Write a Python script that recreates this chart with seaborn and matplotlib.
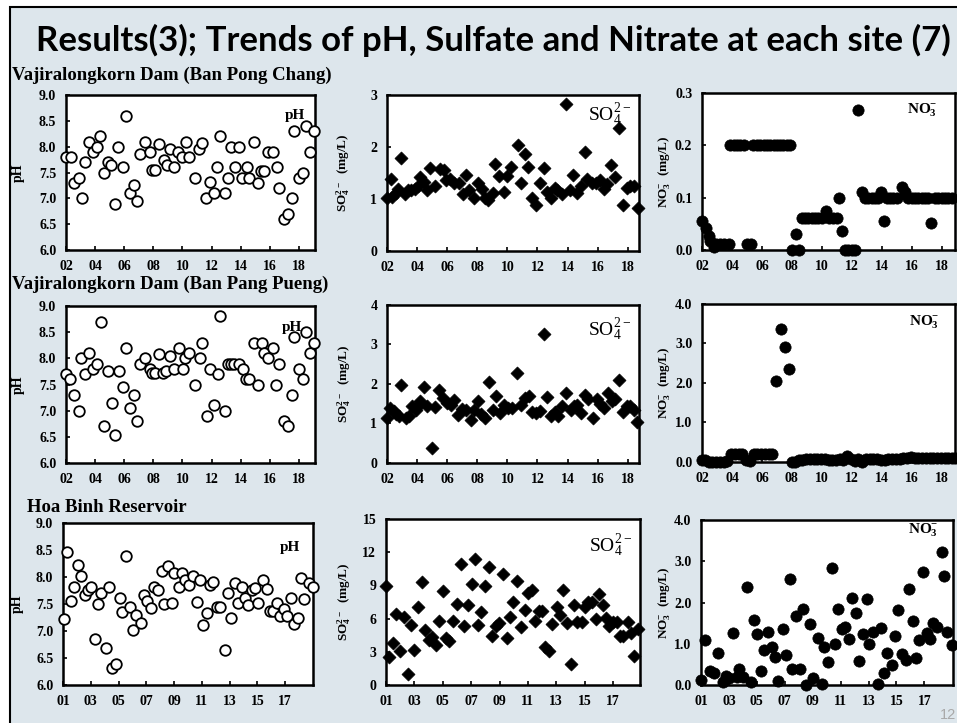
import matplotlib
matplotlib.use('Agg')
import matplotlib.pyplot as plt
from matplotlib.patches import Rectangle
import seaborn as sns

# ---- data (decimal year, value) ----
# Vajiralongkorn Dam (Ban Pong Chang)
bpc_ph_x = [2002.0, 2002.34, 2002.53, 2002.87, 2003.1, 2003.33, 2003.55, 2003.85, 2004.13, 2004.35,
            2004.63, 2004.86, 2005.1, 2005.37, 2005.6, 2005.9, 2006.14, 2006.41, 2006.69, 2006.87,
            2007.1, 2007.44, 2007.78, 2007.9, 2008.13, 2008.42, 2008.7, 2008.93, 2009.15, 2009.43,
            2009.66, 2009.95, 2010.23, 2010.48, 2010.87, 2011.14, 2011.37, 2011.63, 2011.9, 2012.13,
            2012.4, 2012.58, 2012.9, 2013.15, 2013.33, 2013.6, 2013.9, 2014.1, 2014.4, 2014.58,
            2014.93, 2015.2, 2015.4, 2015.62, 2015.9, 2016.2, 2016.47, 2016.65, 2016.97, 2017.27,
            2017.5, 2017.66, 2018.0, 2018.25, 2018.48, 2018.75, 2019.03]
bpc_ph = [7.8, 7.8, 7.3, 7.4, 7.0, 7.7, 8.1, 7.9, 8.0, 8.2,
          7.5, 7.7, 7.65, 6.9, 8.0, 7.6, 8.6, 7.1, 7.25, 6.95,
          7.85, 8.1, 7.9, 7.55, 7.55, 8.05, 7.75, 7.65, 7.95, 7.6,
          7.9, 7.8, 8.1, 7.8, 7.4, 7.95, 8.08, 7.0, 7.32, 7.1,
          7.6, 8.2, 7.1, 7.4, 8.0, 7.6, 8.0, 7.4, 7.6, 7.4,
          8.1, 7.3, 7.52, 7.52, 7.9, 7.9, 7.6, 7.2, 6.6, 6.7,
          7.0, 8.3, 7.4, 7.5, 8.4, 7.9, 8.3]

bpc_so4_x = [2002.0, 2002.24, 2002.35, 2002.57, 2002.73, 2002.95, 2003.17, 2003.39, 2003.61, 2003.83,
             2004.05, 2004.21, 2004.43, 2004.67, 2004.89, 2005.22, 2005.49, 2005.77, 2005.93, 2006.19,
             2006.44, 2006.77, 2007.03, 2007.25, 2007.47, 2007.76, 2008.03, 2008.31, 2008.53, 2008.69,
             2009.02, 2009.2, 2009.46, 2009.79, 2009.97, 2010.23, 2010.68, 2010.9, 2011.18, 2011.4,
             2011.67, 2011.93, 2012.15, 2012.44, 2012.66, 2012.88, 2013.15, 2013.32, 2013.66, 2013.92,
             2014.14, 2014.38, 2014.65, 2014.87, 2015.16, 2015.31, 2015.64, 2015.86, 2016.19, 2016.42,
             2016.64, 2016.92, 2017.14, 2017.41, 2017.67, 2017.92, 2018.18, 2018.4, 2018.69]
bpc_so4 = [1.01, 1.39, 1.04, 1.12, 1.2, 1.78, 1.1, 1.17, 1.17, 1.2,
           1.25, 1.43, 1.33, 1.18, 1.59, 1.25, 1.57, 1.55, 1.36, 1.39,
           1.3, 1.31, 1.09, 1.47, 1.17, 1.01, 1.31, 1.2, 1.01, 0.98,
           1.12, 1.67, 1.44, 1.14, 1.44, 1.61, 2.04, 1.31, 1.86, 1.62,
           1.01, 0.88, 1.3, 1.59, 1.14, 1.01, 1.22, 1.17, 1.1, 2.83,
           1.17, 1.46, 1.12, 1.25, 1.91, 1.38, 1.31, 1.3, 1.36, 1.2,
           1.29, 1.65, 1.43, 2.36, 0.88, 1.22, 1.25, 1.25, 0.82]

bpc_no3_x = [2002.0, 2002.27, 2002.44, 2002.56, 2002.78, 2002.96, 2003.22, 2003.49, 2003.78, 2003.89,
             2004.11, 2004.33, 2004.56, 2004.78, 2005.0, 2005.27, 2005.44, 2005.67, 2005.89, 2006.11,
             2006.33, 2006.56, 2006.78, 2007.0, 2007.22, 2007.44, 2007.67, 2007.89, 2008.0, 2008.27,
             2008.51, 2008.67, 2008.89, 2009.11, 2009.33, 2009.56, 2009.78, 2010.0, 2010.29, 2010.51,
             2010.78, 2011.0, 2011.18, 2011.33, 2011.56, 2011.78, 2012.0, 2012.22, 2012.44, 2012.67,
             2012.89, 2013.11, 2013.33, 2013.56, 2013.78, 2013.93, 2014.18, 2014.33, 2014.56, 2014.78,
             2015.04, 2015.33, 2015.56, 2015.78, 2016.0, 2016.22, 2016.44, 2016.67, 2016.89, 2017.11,
             2017.33, 2017.56, 2017.78, 2018.0, 2018.22, 2018.44, 2018.67]
bpc_no3 = [0.056, 0.042, 0.026, 0.018, 0.005, 0.012, 0.012, 0.012, 0.012, 0.2,
           0.2, 0.2, 0.2, 0.2, 0.012, 0.012, 0.2, 0.2, 0.2, 0.2,
           0.2, 0.2, 0.2, 0.2, 0.2, 0.2, 0.2, 0.2, 0.0, 0.03,
           0.0, 0.062, 0.062, 0.062, 0.062, 0.062, 0.062, 0.062, 0.074, 0.062,
           0.062, 0.062, 0.1, 0.036, 0.0, 0.0, 0.0, 0.0, 0.267, 0.11,
           0.1, 0.1, 0.1, 0.1, 0.1, 0.11, 0.056, 0.1, 0.1, 0.1,
           0.1, 0.12, 0.11, 0.1, 0.1, 0.1, 0.1, 0.1, 0.1, 0.1,
           0.051, 0.1, 0.1, 0.1, 0.1, 0.1, 0.1]

# Vajiralongkorn Dam (Ban Pang Pueng)
bpp_ph_x = [2002.0, 2002.3, 2002.53, 2002.87, 2003.05, 2003.33, 2003.6, 2003.85, 2004.13, 2004.4,
            2004.63, 2004.86, 2005.15, 2005.38, 2005.61, 2005.91, 2006.14, 2006.41, 2006.64, 2006.87,
            2007.1, 2007.44, 2007.74, 2007.9, 2008.13, 2008.42, 2008.65, 2008.88, 2009.15, 2009.43,
            2009.73, 2010.02, 2010.18, 2010.48, 2010.87, 2011.17, 2011.37, 2011.67, 2011.9, 2012.17,
            2012.42, 2012.58, 2012.9, 2013.15, 2013.33, 2013.56, 2013.9, 2014.18, 2014.37, 2014.59,
            2014.94, 2015.21, 2015.44, 2015.62, 2015.9, 2016.2, 2016.42, 2016.65, 2016.97, 2017.27,
            2017.5, 2017.66, 2018.0, 2018.25, 2018.48, 2018.75, 2019.03]
bpp_ph = [7.7, 7.6, 7.3, 7.0, 8.0, 7.7, 8.1, 7.8, 7.9, 8.7,
          6.7, 7.75, 7.15, 6.53, 7.75, 7.45, 8.2, 7.05, 7.3, 6.8,
          7.9, 8.0, 7.8, 7.72, 7.72, 8.08, 7.72, 7.75, 8.04, 7.8,
          8.2, 7.8, 8.0, 8.1, 7.5, 8.0, 8.3, 6.9, 7.8, 7.1,
          7.7, 8.8, 7.0, 7.9, 7.9, 7.9, 7.9, 7.8, 7.6, 7.6,
          8.3, 7.5, 8.3, 8.1, 8.0, 8.2, 7.5, 7.9, 6.8, 6.7,
          7.3, 8.4, 7.8, 7.6, 8.5, 8.1, 8.3]

bpp_so4_x = [2002.0, 2002.18, 2002.44, 2002.62, 2002.79, 2002.95, 2003.24, 2003.46, 2003.68, 2003.9,
             2004.01, 2004.21, 2004.49, 2004.67, 2005.0, 2005.22, 2005.44, 2005.71, 2005.97, 2006.26,
             2006.48, 2006.75, 2006.99, 2007.25, 2007.58, 2007.81, 2008.03, 2008.25, 2008.51, 2008.75,
             2009.02, 2009.24, 2009.53, 2009.79, 2010.01, 2010.3, 2010.63, 2010.9, 2011.18, 2011.45,
             2011.67, 2011.93, 2012.15, 2012.44, 2012.66, 2012.88, 2013.15, 2013.37, 2013.66, 2013.92,
             2014.21, 2014.43, 2014.65, 2014.91, 2015.16, 2015.38, 2015.71, 2015.93, 2016.19, 2016.42,
             2016.7, 2016.97, 2017.14, 2017.41, 2017.67, 2017.96, 2018.14, 2018.4, 2018.62]
bpp_so4 = [1.14, 1.39, 1.31, 1.25, 1.2, 1.97, 1.14, 1.18, 1.44, 1.35,
           1.42, 1.58, 1.93, 1.45, 0.38, 1.41, 1.84, 1.65, 1.52, 1.48,
           1.59, 1.22, 1.37, 1.35, 1.09, 1.35, 1.56, 1.25, 1.15, 2.05,
           1.33, 1.69, 1.26, 1.48, 1.39, 1.38, 2.27, 1.48, 1.65, 1.69,
           1.28, 1.26, 1.31, 3.26, 1.68, 1.18, 1.28, 1.18, 1.44, 1.78,
           1.33, 1.44, 1.48, 1.26, 1.71, 1.61, 1.14, 1.62, 1.5, 1.39,
           1.78, 1.56, 1.61, 2.1, 1.28, 1.45, 1.44, 1.35, 1.03]

bpp_no3_x = [2002.0, 2002.2, 2002.45, 2002.7, 2002.95, 2003.2, 2003.45, 2003.7, 2003.95, 2004.2,
             2004.45, 2004.7, 2004.95, 2005.2, 2005.45, 2005.7, 2005.95, 2006.2, 2006.45, 2006.7,
             2006.95, 2007.3, 2007.55, 2007.78, 2008.0, 2008.2, 2008.45, 2008.7, 2008.95, 2009.2,
             2009.45, 2009.7, 2009.95, 2010.2, 2010.45, 2010.7, 2010.95, 2011.2, 2011.45, 2011.7,
             2011.95, 2012.2, 2012.45, 2012.7, 2012.95, 2013.2, 2013.45, 2013.7, 2013.95, 2014.2,
             2014.45, 2014.7, 2014.95, 2015.2, 2015.45, 2015.7, 2015.95, 2016.2, 2016.45, 2016.7,
             2016.95, 2017.2, 2017.45, 2017.7, 2017.95, 2018.2, 2018.45, 2018.7, 2018.9]
bpp_no3 = [0.05, 0.04, 0.0, 0.0, 0.0, 0.0, 0.0, 0.02, 0.2, 0.2,
           0.2, 0.2, 0.05, 0.02, 0.2, 0.2, 0.2, 0.2, 0.2, 0.2,
           2.05, 3.37, 2.9, 2.35, 0.0, 0.0, 0.04, 0.06, 0.07, 0.07,
           0.07, 0.07, 0.07, 0.08, 0.05, 0.06, 0.04, 0.07, 0.06, 0.15,
           0.07, 0.02, 0.07, 0.0, 0.07, 0.08, 0.08, 0.08, 0.04, 0.04,
           0.08, 0.08, 0.08, 0.08, 0.1, 0.1, 0.12, 0.1, 0.1, 0.1,
           0.1, 0.1, 0.1, 0.1, 0.1, 0.1, 0.1, 0.1, 0.1]

# Hoa Binh Reservoir
hb_ph_x = [2001.07, 2001.29, 2001.55, 2001.79, 2002.08, 2002.28, 2002.56, 2002.8, 2003.05, 2003.29,
           2003.53, 2003.77, 2004.08, 2004.3, 2004.56, 2004.85, 2005.09, 2005.28, 2005.52, 2005.81,
           2006.05, 2006.29, 2006.61, 2006.82, 2007.02, 2007.31, 2007.54, 2007.86, 2008.1, 2008.27,
           2008.58, 2008.87, 2009.01, 2009.35, 2009.54, 2009.78, 2010.1, 2010.34, 2010.62, 2010.87,
           2011.1, 2011.34, 2011.58, 2011.83, 2012.07, 2012.31, 2012.67, 2012.91, 2013.1, 2013.39,
           2013.58, 2013.87, 2014.11, 2014.35, 2014.59, 2014.83, 2015.07, 2015.39, 2015.68, 2015.87,
           2016.11, 2016.4, 2016.59, 2016.88, 2017.12, 2017.41, 2017.65, 2017.92, 2018.13, 2018.37,
           2018.69, 2018.97]
hb_ph = [7.23, 8.47, 7.56, 7.82, 8.23, 8.01, 7.67, 7.76, 7.81, 6.85,
         7.5, 7.7, 6.68, 7.81, 6.31, 6.38, 7.62, 7.35, 8.38, 7.45,
         7.02, 7.29, 7.14, 7.66, 7.55, 7.42, 7.82, 7.76, 8.12, 7.5,
         8.2, 7.52, 8.07, 7.82, 8.07, 7.95, 7.86, 8.01, 7.53, 7.95,
         7.11, 7.33, 7.86, 7.91, 7.45, 7.45, 6.64, 7.7, 7.25, 7.89,
         7.52, 7.81, 7.62, 7.48, 7.76, 7.79, 7.52, 7.95, 7.78, 7.37,
         7.37, 7.52, 7.27, 7.41, 7.28, 7.62, 7.13, 7.25, 7.99, 7.59,
         7.89, 7.82]

hb_so4_x = [2001.0, 2001.23, 2001.47, 2001.7, 2001.99, 2002.27, 2002.53, 2002.74, 2002.97, 2003.23,
            2003.51, 2003.75, 2004.03, 2004.22, 2004.52, 2004.76, 2005.04, 2005.23, 2005.46, 2005.74,
            2005.97, 2006.26, 2006.51, 2006.75, 2007.03, 2007.26, 2007.5, 2007.73, 2007.97, 2008.25,
            2008.49, 2008.72, 2008.96, 2009.22, 2009.5, 2009.73, 2009.97, 2010.25, 2010.49, 2010.79,
            2011.02, 2011.26, 2011.49, 2011.8, 2012.0, 2012.24, 2012.48, 2012.73, 2013.02, 2013.25,
            2013.49, 2013.77, 2014.01, 2014.24, 2014.48, 2014.78, 2015.02, 2015.25, 2015.53, 2015.79,
            2016.02, 2016.31, 2016.49, 2016.73, 2016.97, 2017.25, 2017.48, 2017.72, 2018.02, 2018.25,
            2018.46, 2018.77]
hb_so4 = [8.97, 2.54, 3.77, 6.4, 3.03, 6.18, 0.99, 5.41, 3.15, 7.02,
          9.28, 4.95, 4.08, 4.33, 3.65, 5.78, 8.5, 4.27, 3.96, 5.81,
          7.36, 10.89, 5.32, 7.21, 9.12, 11.38, 5.41, 6.56, 8.97, 10.67,
          4.39, 5.32, 5.63, 10.05, 4.27, 6.12, 7.48, 9.43, 5.26, 6.8,
          8.29, 8.6, 5.81, 6.65, 6.65, 3.4, 3.03, 5.5, 7.05, 6.34,
          8.6, 5.63, 1.92, 7.27, 5.72, 5.72, 7.05, 7.48, 7.48, 5.94,
          8.2, 7.27, 6.03, 5.32, 5.72, 5.72, 4.39, 4.39, 5.72, 4.7,
          2.63, 5.1]

hb_no3_x = [2001.0, 2001.29, 2001.64, 2001.93, 2002.24, 2002.55, 2002.79, 2003.03, 2003.32, 2003.55,
            2003.74, 2004.03, 2004.27, 2004.58, 2004.82, 2005.03, 2005.3, 2005.51, 2005.82, 2006.11,
            2006.3, 2006.54, 2006.85, 2007.06, 2007.35, 2007.54, 2007.78, 2008.09, 2008.33, 2008.49,
            2008.8, 2009.0, 2009.35, 2009.64, 2009.83, 2010.12, 2010.36, 2010.59, 2010.83, 2011.07,
            2011.31, 2011.6, 2011.84, 2012.07, 2012.31, 2012.58, 2012.86, 2013.05, 2013.34, 2013.65,
            2013.86, 2014.1, 2014.34, 2014.65, 2014.89, 2015.13, 2015.37, 2015.65, 2015.92, 2016.16,
            2016.39, 2016.63, 2016.92, 2017.16, 2017.4, 2017.63, 2017.92, 2018.23, 2018.4, 2018.64,
            2018.95]
hb_no3 = [0.13, 1.09, 0.34, 0.29, 0.77, 0.07, 0.23, 0.17, 1.25, 0.19,
          0.38, 0.19, 2.38, 0.08, 1.57, 1.24, 0.35, 0.86, 1.28, 0.91,
          0.67, 0.1, 1.36, 0.72, 2.57, 0.4, 1.68, 0.4, 1.84, 0.0,
          1.47, 0.17, 1.14, 0.03, 0.91, 0.56, 2.84, 0.99, 1.85, 1.36,
          1.41, 1.11, 2.11, 1.75, 0.59, 1.24, 2.09, 0.99, 1.28, 0.03,
          1.39, 0.29, 0.77, 0.49, 1.18, 1.81, 0.76, 0.61, 2.32, 1.56,
          0.66, 1.08, 2.74, 1.25, 1.12, 1.5, 1.41, 3.22, 2.65, 1.28,
          0.97]

# tick labels
even_years = [2002, 2004, 2006, 2008, 2010, 2012, 2014, 2016, 2018]
even_labels = ['02', '04', '06', '08', '10', '12', '14', '16', '18']
odd_years = [2001, 2003, 2005, 2007, 2009, 2011, 2013, 2015, 2017]
odd_labels = ['01', '03', '05', '07', '09', '11', '13', '15', '17']

title = 'Results(3); Trends of pH, Sulfate and Nitrate at each site (7)'
sites = ['Vajiralongkorn Dam (Ban Pong Chang)', 'Vajiralongkorn Dam (Ban Pang Pueng)', 'Hoa Binh Reservoir']

sns.set_theme(style='white')
plt.rcParams['font.family'] = ['Liberation Serif', 'DejaVu Serif']
plt.rcParams['mathtext.default'] = 'regular'
for key in ['text.color', 'axes.labelcolor', 'xtick.color', 'ytick.color']:
    plt.rcParams[key] = 'black'

W, H = 957, 723
fig = plt.figure(figsize=(W / 100, H / 100), dpi=100)
fig.patch.set_facecolor('white')
fig.patches.append(Rectangle((10 / W, -0.1), 1.2, 1.1 - 7 / H, transform=fig.transFigure,
                             facecolor='#dde6ec', edgecolor='black', linewidth=1.5, zorder=-10))

fig.text(493 / W, 1 - 40 / H, title, ha='center', va='center', fontsize=25,
         fontweight='bold', family='Lato')
fig.text(12 / W, 1 - 75 / H, sites[0], fontsize=13.5, fontweight='bold', va='center')
fig.text(12 / W, 1 - 284 / H, sites[1], fontsize=13.5, fontweight='bold', va='center')
fig.text(27 / W, 1 - 507 / H, sites[2], fontsize=13.5, fontweight='bold', va='center')
# slide number, partly hidden at the corner as on the slide
fig.text(940 / W, 1 - 715 / H, '12', color='#a9a9a9', fontsize=10.5, va='center', family='Liberation Sans')


def add_panel(left, top, right, bottom):
    return fig.add_axes([left / W, 1 - bottom / H, (right - left) / W, (bottom - top) / H])


def draw(ax, xs, ys, kind):
    if kind == 'ph':
        sns.scatterplot(x=xs, y=ys, ax=ax, marker='o', s=58, color='white', edgecolor='black',
                        linewidth=1.3, clip_on=False, zorder=3)
    elif kind == 'so4':
        sns.scatterplot(x=xs, y=ys, ax=ax, marker='D', s=44, color='black', edgecolor='black',
                        linewidth=0.5, clip_on=False, zorder=3)
    else:
        sns.scatterplot(x=xs, y=ys, ax=ax, marker='o', s=66, color='black', edgecolor='black',
                        linewidth=0.5, clip_on=False, zorder=3)


def style(ax, xlim, xticks, xlabels, ylim, yticks, yfmt):
    ax.set_facecolor('white')
    ax.set_xlim(xlim)
    ax.set_ylim(ylim)
    ax.set_xticks(xticks)
    ax.set_xticklabels(xlabels)
    ax.set_yticks(yticks)
    ax.set_yticklabels([yfmt.format(v) for v in yticks])
    for sp in ax.spines.values():
        sp.set_visible(True)
        sp.set_color('black')
        sp.set_linewidth(1.8)
        sp.set_zorder(2)
    ax.tick_params(direction='in', length=3, width=1.2, color='black', labelsize=10, pad=7,
                   left=True, bottom=True, labelcolor='black')
    for lab in ax.get_xticklabels() + ax.get_yticklabels():
        lab.set_fontweight('bold')
    ax.set_xlabel('')


def ylab(ax, text, xpos, size=10):
    ax.set_ylabel(text, fontsize=size, fontweight='bold', va='center', color='black')
    ax.yaxis.set_label_coords(xpos, 0.5)


def tag(ax, text, xf, yf, size=11, weight='bold'):
    ax.text(xf, yf, text, transform=ax.transAxes, ha='right', va='center',
            fontsize=size, fontweight=weight, color='black', zorder=4)


ph_ticks = [6.0, 6.5, 7.0, 7.5, 8.0, 8.5, 9.0]
so4_lab = 'SO$_4^{2-}$  (mg/L)'
no3_lab = 'NO$_3^{-}$  (mg/L)'

# row 1
ax = add_panel(66, 95, 315, 250)
draw(ax, bpc_ph_x, bpc_ph, 'ph')
style(ax, (2002, 2019.1), even_years, even_labels, (6, 9), ph_ticks, '{:.1f}')
ylab(ax, 'pH', -0.19)
tag(ax, 'pH', 0.96, 0.865)

ax = add_panel(387, 95, 639, 251)
draw(ax, bpc_so4_x, bpc_so4, 'so4')
style(ax, (2002, 2018.75), even_years, even_labels, (0, 3), [0, 1, 2, 3], '{:.0f}')
ylab(ax, so4_lab, -0.175, 9.5)
tag(ax, 'SO$_4^{2-}$', 0.97, 0.87, 14, 'normal')

ax = add_panel(702, 93, 955, 250)
draw(ax, bpc_no3_x, bpc_no3, 'no3')
style(ax, (2002, 2018.9), even_years, even_labels, (0, 0.3), [0.0, 0.1, 0.2, 0.3], '{:.1f}')
ylab(ax, no3_lab, -0.15, 9.5)
tag(ax, 'NO$_3^{-}$', 0.93, 0.89)

# row 2
ax = add_panel(66, 306, 315, 463)
draw(ax, bpp_ph_x, bpp_ph, 'ph')
style(ax, (2002, 2019.1), even_years, even_labels, (6, 9), ph_ticks, '{:.1f}')
ylab(ax, 'pH', -0.19)
tag(ax, 'pH', 0.948, 0.865)

ax = add_panel(387, 305, 639, 463)
draw(ax, bpp_so4_x, bpp_so4, 'so4')
style(ax, (2002, 2018.75), even_years, even_labels, (0, 4), [0, 1, 2, 3, 4], '{:.0f}')
ylab(ax, so4_lab, -0.17, 9.5)
tag(ax, 'SO$_4^{2-}$', 0.97, 0.84, 14, 'normal')

ax = add_panel(702, 304, 955, 462)
draw(ax, bpp_no3_x, bpp_no3, 'no3')
style(ax, (2002, 2018.9), even_years, even_labels, (0, 4), [0.0, 1.0, 2.0, 3.0, 4.0], '{:.1f}')
ylab(ax, no3_lab, -0.15, 9.5)
tag(ax, 'NO$_3^{-}$', 0.94, 0.886)

# row 3
ax = add_panel(63, 523, 313, 685)
draw(ax, hb_ph_x, hb_ph, 'ph')
style(ax, (2001, 2019.0), odd_years, odd_labels, (6, 9), ph_ticks, '{:.1f}')
ylab(ax, 'pH', -0.184)
tag(ax, 'pH', 0.948, 0.85)

ax = add_panel(386, 519, 640, 685)
draw(ax, hb_so4_x, hb_so4, 'so4')
style(ax, (2001, 2018.9), odd_years, odd_labels, (0, 15), [0, 3, 6, 9, 12, 15], '{:.0f}')
ylab(ax, so4_lab, -0.165, 9.5)
tag(ax, 'SO$_4^{2-}$', 0.97, 0.84, 14, 'normal')

ax = add_panel(701, 520, 953, 685)
draw(ax, hb_no3_x, hb_no3, 'no3')
style(ax, (2001, 2019.05), odd_years, odd_labels, (0, 4), [0.0, 1.0, 2.0, 3.0, 4.0], '{:.1f}')
ylab(ax, no3_lab, -0.147, 9.5)
tag(ax, 'NO$_3^{-}$', 0.944, 0.94)

fig.savefig('out.png', dpi=100)
